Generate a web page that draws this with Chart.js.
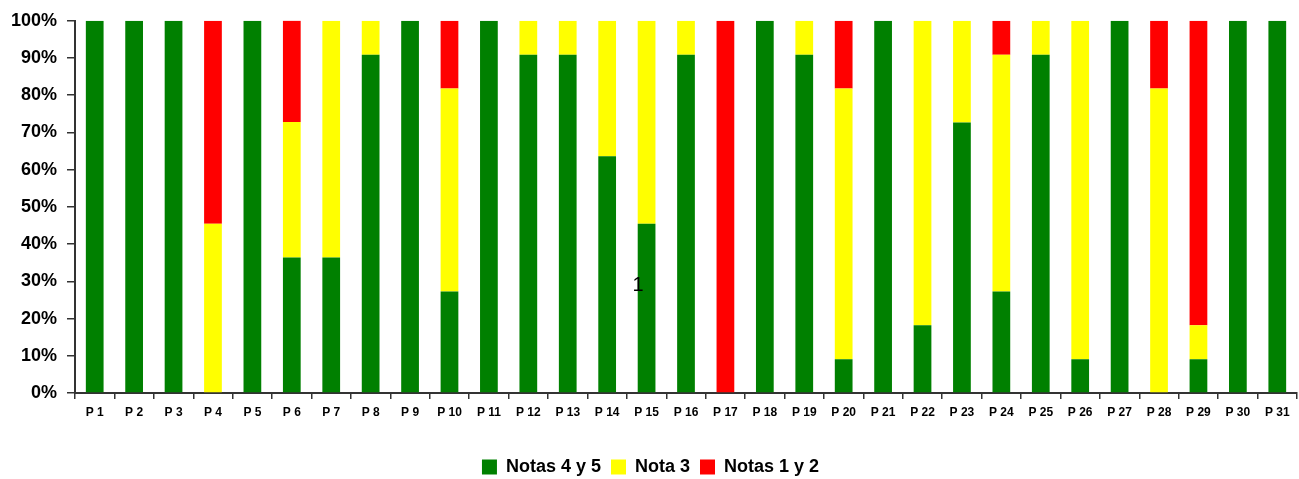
<!DOCTYPE html>
<html>
<head>
<meta charset="utf-8">
<script src="https://cdn.jsdelivr.net/npm/chart.js@4"></script>
<style>
    html, body { margin: 0; padding: 0; background: #fff; }
    #wrap { width: 1299px; height: 479px; }
</style>
</head>
<body>
<div id="wrap"><canvas id="notasChart" width="1299" height="479"></canvas></div>
<script>
const preguntas = ['P 1', 'P 2', 'P 3', 'P 4', 'P 5', 'P 6', 'P 7', 'P 8', 'P 9', 'P 10',
    'P 11', 'P 12', 'P 13', 'P 14', 'P 15', 'P 16', 'P 17', 'P 18', 'P 19', 'P 20',
    'P 21', 'P 22', 'P 23', 'P 24', 'P 25', 'P 26', 'P 27', 'P 28', 'P 29', 'P 30', 'P 31'];

const notas45 = [100, 100, 100, 0, 100, 36.4, 36.4, 90.9, 100, 27.3,
    100, 90.9, 90.9, 63.6, 45.5, 90.9, 0, 100, 90.9, 9.1,
    100, 18.2, 72.7, 27.3, 90.9, 9.1, 100, 0, 9.1, 100, 100];

const nota3 = [0, 0, 0, 45.5, 0, 36.4, 63.6, 9.1, 0, 54.5,
    0, 9.1, 9.1, 36.4, 54.5, 9.1, 0, 0, 9.1, 72.7,
    0, 81.8, 27.3, 63.6, 9.1, 90.9, 0, 81.8, 9.1, 0, 0];

const notas12 = [0, 0, 0, 54.5, 0, 27.3, 0, 0, 0, 18.2,
    0, 0, 0, 0, 0, 0, 100, 0, 0, 18.2,
    0, 0, 0, 9.1, 0, 0, 0, 18.2, 81.8, 0, 0];

const yTicks = [0, 10, 20, 30, 40, 50, 60, 70, 80, 90, 100];

const baseFont = "'Liberation Sans', Arial, sans-serif";

// stray "1" label seen in the middle of the plot
const strayText = {
    id: 'strayText',
    afterDatasetsDraw(chart) {
        const ctx = chart.ctx;
        const x = chart.scales.x.getPixelForValue(14) - 14;
        const y = chart.scales.y.getPixelForValue(29);
        ctx.save();
        ctx.font = "20px " + baseFont;
        ctx.fillStyle = '#000';
        ctx.textBaseline = 'middle';
        ctx.fillText('1', x, y);
        ctx.restore();
    }
};

function makeDataset(label, data, color) {
    return {
        label: label,
        data: data,
        backgroundColor: color,
        borderWidth: 0,
        barPercentage: 0.45,
        categoryPercentage: 1.0
    };
}

const ctx = document.getElementById('notasChart');

new Chart(ctx, {
    type: 'bar',
    plugins: [strayText],
    data: {
        labels: preguntas,
        datasets: [
            makeDataset('Notas 4 y 5', notas45, '#008000'),
            makeDataset('Nota 3', nota3, '#FFFF00'),
            makeDataset('Notas 1 y 2', notas12, '#FF0000')
        ]
    },
    options: {
        responsive: false,
        animation: false,
        layout: {
            padding: { top: 12, right: 2, left: 4, bottom: -7 }
        },
        plugins: {
            tooltip: { enabled: false },
            legend: {
                position: 'bottom',
                labels: {
                    color: '#000',
                    boxWidth: 15,
                    boxHeight: 15,
                    padding: 10,
                    font: { family: baseFont, size: 18, weight: 'bold' }
                }
            }
        },
        scales: {
            x: {
                stacked: true,
                offset: true,
                border: { color: '#333', width: 2 },
                grid: {
                    offset: true,
                    drawOnChartArea: false,
                    color: '#333',
                    tickLength: 6,
                    lineWidth: 1.5
                },
                ticks: {
                    color: '#000',
                    padding: 6,
                    maxRotation: 0,
                    autoSkip: false,
                    font: { family: baseFont, size: 12, weight: 'bold' }
                },
                afterFit(scale) {
                    scale.height = 55;
                }
            },
            y: {
                stacked: true,
                min: 0,
                max: 100,
                border: { color: '#333', width: 2 },
                grid: {
                    drawOnChartArea: false,
                    color: '#333',
                    tickLength: 8,
                    lineWidth: 1.5
                },
                afterBuildTicks(scale) {
                    scale.ticks = yTicks.map(v => ({ value: v }));
                },
                ticks: {
                    color: '#000',
                    padding: 10,
                    font: { family: baseFont, size: 18, weight: 'bold' },
                    callback: v => v + '%'
                },
                afterFit(scale) {
                    scale.width = 71;
                }
            }
        }
    }
});
</script>
</body>
</html>
